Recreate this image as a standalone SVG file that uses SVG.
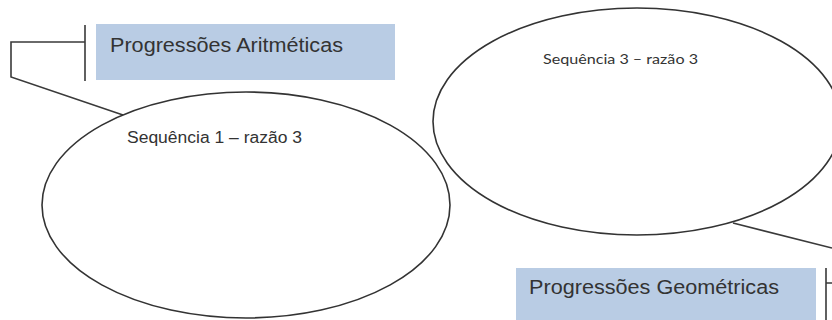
<svg xmlns="http://www.w3.org/2000/svg" width="832" height="320" viewBox="0 0 832 320">
<style>
.box{fill:#b9cce4;stroke:none}
.ln{fill:none;stroke:#3a3a3a;stroke-width:1.6}
.ell{fill:none;stroke:#333;stroke-width:1.6}
.t1{font-family:"Liberation Sans",Arial,sans-serif;font-size:20px;fill:#333}
.t2{font-family:"Liberation Sans",Arial,sans-serif;font-size:16px;fill:#333}
.t3{font-family:Lato,"Liberation Sans",sans-serif;font-size:14px;fill:#333}
</style>
<rect width="832" height="320" fill="#fff"/>
<g id="connectors">
<path class="ln" d="M85,25 V81 M85,42 H11 V77 L123,115"/>
<path class="ln" d="M733,223 L832,248 M826,268 V320 M826,283 H832"/>
</g>
<g id="pa">
<rect class="box" x="96" y="24" width="299" height="56"/>
<text class="t1" x="110" y="52" textLength="233" lengthAdjust="spacingAndGlyphs">Progressões Aritméticas</text>
</g>
<g id="seq1">
<ellipse class="ell" cx="246" cy="205" rx="204" ry="113"/>
<text class="t2" x="127" y="143" textLength="175" lengthAdjust="spacingAndGlyphs">Sequência 1 – razão 3</text>
</g>
<g id="seq3">
<ellipse class="ell" cx="637" cy="121.5" rx="204" ry="113.5"/>
<text class="t3" x="543" y="64" textLength="155" lengthAdjust="spacingAndGlyphs">Sequência 3 – razão 3</text>
</g>
<g id="pg">
<rect class="box" x="516" y="268" width="300" height="60"/>
<text class="t1" x="529" y="294" textLength="250" lengthAdjust="spacingAndGlyphs">Progressões Geométricas</text>
</g>
</svg>
